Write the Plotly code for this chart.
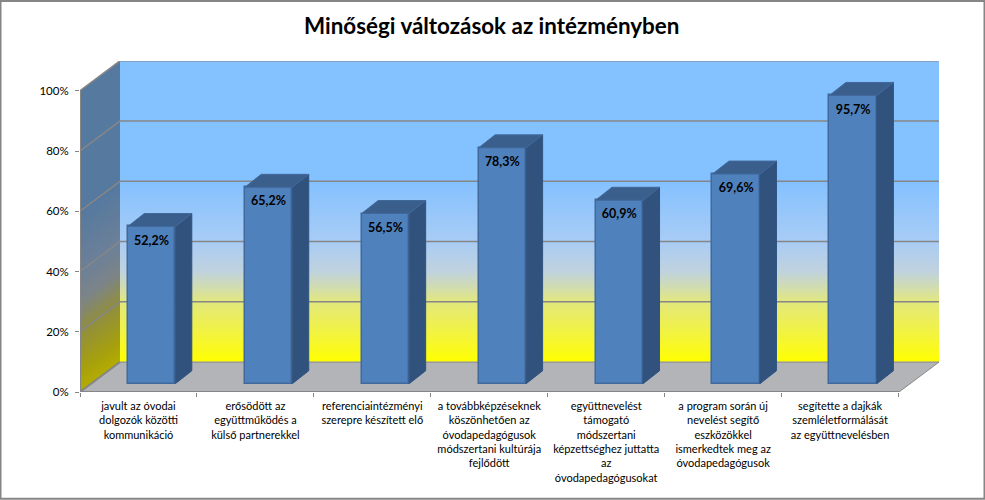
import numpy as np
import plotly.graph_objects as go

TITLE = "Minőségi változások az intézményben"
categories = [
    "javult az óvodai<br>dolgozók közötti<br>kommunikáció",
    "erősödött az<br>együttműködés a<br>külső partnerekkel",
    "referenciaintézményi<br>szerepre készített elő",
    "a továbbképzéseknek<br>köszönhetően az<br>óvodapedagógusok<br>módszertani kultúrája<br>fejlődött",
    "együttnevelést<br>támogató<br>módszertani<br>képzettséghez juttatta<br>az<br>óvodapedagógusokat",
    "a program során új<br>nevelést segítő<br>eszközökkel<br>ismerkedtek meg az<br>óvodapedagógusok",
    "segítette a dajkák<br>szemléletformálását<br>az együttnevelésben",
]
values = [52.2, 65.2, 56.5, 78.3, 60.9, 69.6, 95.7]
y_ticks = [0, 20, 40, 60, 80, 100]
y_tick_labels = ["0%", "20%", "40%", "60%", "80%", "100%"]

# oblique-projection constants, in axis units
CAT_PX, PCT_PX = 116.93, 3.017
DX, DY = 40 / CAT_PX, 30 / PCT_PX          # depth of the floor
BX, BY = 0.112, 2.75                       # bar front inset from the front plane
BDX, BDY = 16.5 / CAT_PX, 13 / PCT_PX      # bar depth
BW = 47.5 / CAT_PX
N = len(values)
XMAX, YMAX = 859 / CAT_PX, 331.5 / PCT_PX

GRID = "#868686"
back_scale = [[0, "#FFFF00"], [0.07, "#F6F630"], [0.2, "#E2E87E"], [0.25, "#D0DCB2"],
              [0.3, "#C0D2DE"], [0.4, "#A8CCF5"], [0.6, "#84C1FF"], [1, "#84C1FF"]]
side_scale = [[0, "#B4AC00"], [0.07, "#A6A00E"], [0.2, "#908E40"], [0.3, "#7C8488"],
              [0.4, "#6C8098"], [0.6, "#55799F"], [1, "#55799F"]]

fig = go.Figure()

# back wall
yb = np.linspace(0, 100, 303)
fig.add_trace(go.Heatmap(x=[DX, XMAX], y=yb + DY, z=[[v] for v in (yb[:-1] + yb[1:]) / 2],
                         colorscale=back_scale, zmin=0, zmax=100, showscale=False, hoverinfo="skip"))
# left wall, sheared
xs = np.linspace(0, DX, 41)
ys = np.linspace(0, YMAX, 333)
xc, yc = np.meshgrid((xs[:-1] + xs[1:]) / 2, (ys[:-1] + ys[1:]) / 2)
zs = yc - xc / DX * DY
zs[(zs < 0) | (zs > 100)] = np.nan
fig.add_trace(go.Heatmap(x=xs, y=ys, z=zs, colorscale=side_scale, zmin=0, zmax=100,
                         showscale=False, hoverinfo="skip"))

# gridlines: left wall + back wall
gx, gy = [], []
for t in y_ticks[1:]:
    gx += [0, DX, XMAX, None]
    gy += [t, t + DY, t + DY, None]
fig.add_trace(go.Scatter(x=gx, y=gy, mode="lines", line=dict(color=GRID, width=1.5),
                         hoverinfo="skip", showlegend=False))
# floor
fig.add_trace(go.Scatter(x=[0, XMAX - DX, XMAX, DX, 0], y=[0, 0, DY, DY, 0], mode="lines",
                         fill="toself", fillcolor="#B2B4B7", line=dict(color=GRID, width=1),
                         hoverinfo="skip", showlegend=False))
# axis edges
fig.add_trace(go.Scatter(x=[0, 0, None, 0, XMAX - DX, None, 0, DX], y=[0, 100, None, 0, 0, None, 0, DY],
                         mode="lines", line=dict(color=GRID, width=2), hoverinfo="skip", showlegend=False))

# bars, drawn on an overlaid copy of the axes
front_x = [i + 0.5 + BX for i in range(N)]
fig.add_trace(go.Bar(x=front_x, y=values, base=BY, width=BW, xaxis="x2", yaxis="y2",
                     marker=dict(color="#4F81BD", line=dict(color="#41699B", width=1.5)),
                     hoverinfo="skip", showlegend=False))
side_x, side_y, top_x, top_y = [], [], [], []
for x, v in zip(front_x, values):
    l, r, t = x - BW / 2, x + BW / 2, v + BY
    side_x += [r, r + BDX, r + BDX, r, r, None]
    side_y += [BY, BY + BDY, t + BDY, t, BY, None]
    top_x += [l, r, r + BDX, l + BDX, l, None]
    top_y += [t, t, t + BDY, t + BDY, t, None]
fig.add_trace(go.Scatter(x=side_x, y=side_y, mode="lines", fill="toself", fillcolor="#30527C",
                         line=dict(color="#2F5482", width=1), xaxis="x2", yaxis="y2",
                         hoverinfo="skip", showlegend=False))
fig.add_trace(go.Scatter(x=top_x, y=top_y, mode="lines", fill="toself", fillcolor="#3B5F8D",
                         line=dict(color="#41699B", width=1), xaxis="x2", yaxis="y2",
                         hoverinfo="skip", showlegend=False))
# data labels
fig.add_trace(go.Scatter(x=front_x, y=[v + BY - 5.0 for v in values], mode="text",
                         text=[f"{v:.1f}%".replace(".", ",") for v in values],
                         textposition="middle center",
                         textfont=dict(family="Lato", size=12.5, color="#000000", weight="bold"),
                         xaxis="x2", yaxis="y2", hoverinfo="skip", showlegend=False))

axis_font = dict(family="Lato", size=11, color="#000000")
fig.update_layout(
    width=985, height=500, margin=dict(l=80, r=46, t=60.5, b=108, autoexpand=False),
    paper_bgcolor="white", plot_bgcolor="white", showlegend=False, bargap=0,
    title=dict(text=TITLE, x=491.7 / 985, y=1 - 26 / 500, xanchor="center", yanchor="middle",
               font=dict(family="Lato", size=22.4, color="#000000", weight="bold")),
    xaxis=dict(range=[0, XMAX], tickvals=[i + 0.5 for i in range(N)], ticktext=categories,
               tickangle=0, ticks="", showgrid=False, zeroline=False, showline=False, tickfont=axis_font,
               ticklabelstandoff=6,
               minor=dict(tickvals=list(range(N + 1)), ticks="outside", ticklen=4, tickcolor=GRID,
                          tickwidth=1, showgrid=False)),
    yaxis=dict(range=[0, YMAX], tickvals=y_ticks, ticktext=y_tick_labels, ticks="outside", ticklen=4,
               tickcolor=GRID, showgrid=False, zeroline=False, showline=False,
               ticklabelstandoff=4, tickfont=dict(axis_font, size=11.5)),
    xaxis2=dict(range=[0, XMAX], overlaying="x", visible=False),
    yaxis2=dict(range=[0, YMAX], overlaying="y", visible=False),
    shapes=[dict(type="rect", xref="paper", yref="paper", x0=-79.5 / 859, x1=904.5 / 859,
                 y0=(392 - 499) / 331.5, y1=(392 - 0.5) / 331.5, line=dict(color="#868686", width=2),
                 fillcolor="rgba(0,0,0,0)", layer="below")],
)
fig.write_html("out.html", config={"displayModeBar": False},
               post_script="document.body.style.margin='0';")
